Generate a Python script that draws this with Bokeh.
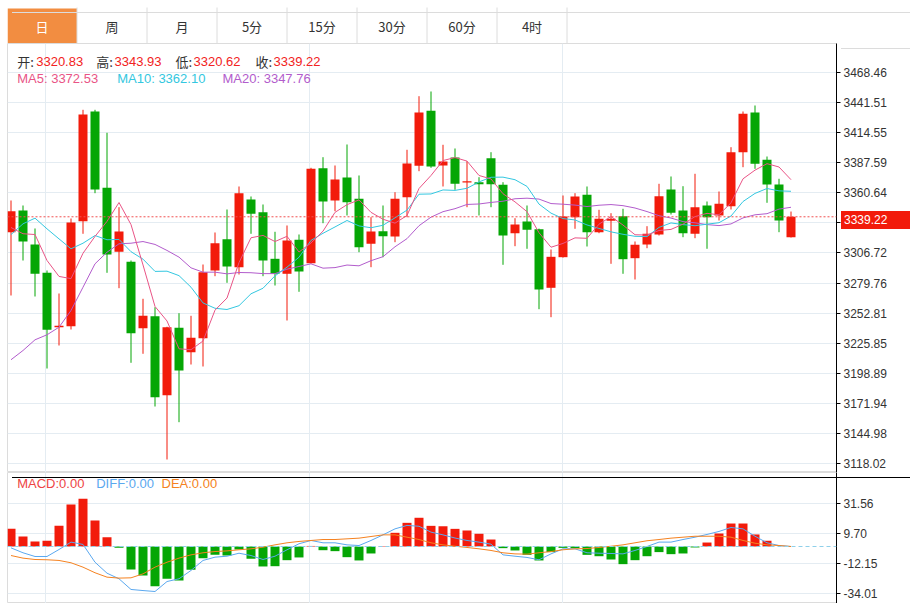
from bokeh.plotting import figure
from bokeh.layouts import column
from bokeh.models import Range1d, FixedTicker, PrintfTickFormatter, Span, Label, ColumnDataSource, Grid, Div
from bokeh.embed import file_html
from bokeh.resources import INLINE

# ---------------- data ----------------
tabs = ["日", "周", "月", "5分", "15分", "30分", "60分", "4时"]

opens = [3325.39, 3344.86, 3314.35, 3288.94, 3240.11, 3241.01, 3335.26, 3433.73, 3365.24, 3307.79,
         3298.82, 3239.22, 3249.99, 3179.08, 3239.58, 3217.67, 3230.24, 3291.01, 3319.10, 3293.97,
         3354.74, 3343.34, 3301.51, 3288.05, 3318.56, 3297.56, 3382.83, 3353.84, 3374.48, 3355.37,
         3314.97, 3326.28, 3321.53, 3356.80, 3384.99, 3434.36, 3385.26, 3392.44, 3370.00, 3370.27,
         3391.81, 3367.93, 3324.49, 3334.99, 3328.08, 3275.48, 3302.95, 3338.85, 3358.96, 3325.39,
         3335.62, 3339.75, 3302.05, 3314.35, 3323.32, 3363.71, 3344.86, 3323.95, 3349.35, 3340.38,
         3348.72, 3397.19, 3432.83, 3390.37, 3368.20, 3320.83]
highs = [3353.84, 3349.35, 3328.71, 3291.01, 3270.36, 3337.68, 3435.25, 3435.25, 3414.61, 3347.83,
         3299.98, 3265.61, 3258.07, 3240.50, 3252.68, 3250.34, 3296.39, 3325.12, 3345.76, 3366.41,
         3357.43, 3350.25, 3325.75, 3331.40, 3323.32, 3383.19, 3392.71, 3385.26, 3404.11, 3376.28,
         3338.85, 3349.35, 3361.29, 3399.35, 3447.46, 3451.68, 3403.84, 3400.52, 3389.12, 3374.76,
         3397.19, 3370.27, 3337.95, 3349.35, 3328.60, 3309.86, 3358.33, 3360.39, 3366.41, 3345.49,
         3342.44, 3346.39, 3317.04, 3330.77, 3368.83, 3375.38, 3366.68, 3377.81, 3352.94, 3361.92,
         3401.68, 3433.73, 3439.11, 3393.33, 3373.32, 3343.93]
lows = [3268.57, 3299.98, 3267.67, 3203.04, 3223.69, 3238.05, 3323.95, 3360.39, 3288.94, 3275.12,
        3208.16, 3216.24, 3168.93, 3121.36, 3154.84, 3206.63, 3204.84, 3285.89, 3279.97, 3287.42,
        3323.95, 3285.89, 3277.54, 3246.13, 3271.89, 3297.20, 3333.46, 3344.24, 3340.38, 3307.43,
        3293.97, 3302.95, 3316.41, 3338.85, 3380.14, 3383.19, 3366.41, 3363.45, 3347.83, 3340.38,
        3347.83, 3296.12, 3312.82, 3310.49, 3256.27, 3249.09, 3302.60, 3328.44, 3312.55, 3324.49,
        3297.02, 3288.05, 3282.93, 3311.02, 3322.42, 3341.27, 3320.90, 3320.00, 3310.49, 3335.89,
        3345.76, 3383.73, 3382.29, 3351.78, 3325.39, 3320.62]
closes = [3344.24, 3317.04, 3288.04, 3237.78, 3241.37, 3334.09, 3431.03, 3363.71, 3305.37, 3326.01,
          3234.73, 3250.34, 3177.28, 3240.11, 3201.25, 3230.60, 3289.48, 3315.51, 3294.60, 3360.39,
          3341.90, 3299.98, 3288.05, 3317.94, 3290.11, 3382.29, 3352.94, 3372.69, 3352.31, 3311.92,
          3326.01, 3321.80, 3355.37, 3387.05, 3432.83, 3384.36, 3388.85, 3368.83, 3371.16, 3368.47,
          3368.47, 3322.42, 3332.30, 3327.54, 3273.95, 3303.30, 3339.48, 3357.43, 3325.39, 3337.41,
          3337.41, 3301.15, 3314.08, 3323.95, 3357.70, 3342.80, 3324.49, 3347.83, 3338.85, 3350.88,
          3397.19, 3431.66, 3386.78, 3368.20, 3335.89, 3339.22]

ma5 = [3329.6, 3324.0, 3323.3, 3300.0, 3285.7, 3283.7, 3306.5, 3321.6, 3335.1, 3352.0,
       3332.2, 3296.0, 3258.7, 3245.7, 3220.7, 3219.9, 3227.7, 3255.4, 3266.3, 3298.1,
       3320.4, 3322.5, 3317.0, 3321.7, 3307.6, 3315.7, 3326.3, 3343.2, 3350.1, 3354.4,
       3343.2, 3337.0, 3333.5, 3340.4, 3364.6, 3376.3, 3389.7, 3392.4, 3389.2, 3376.3,
       3373.2, 3359.9, 3352.6, 3343.8, 3324.9, 3311.9, 3315.3, 3320.3, 3319.9, 3332.6,
       3339.4, 3331.8, 3323.1, 3322.8, 3326.9, 3327.9, 3332.6, 3339.4, 3342.3, 3341.0,
       3351.8, 3373.3, 3381.1, 3386.9, 3383.9, 3372.53]
ma10 = [3323.3, 3332.9, 3338.0, 3328.4, 3319.4, 3310.5, 3315.5, 3322.4, 3318.6, 3318.9,
        3307.9, 3301.2, 3290.2, 3290.4, 3286.4, 3276.0, 3261.9, 3257.1, 3256.0, 3259.4,
        3270.1, 3275.1, 3286.2, 3294.0, 3302.9, 3318.0, 3324.4, 3330.1, 3335.9, 3331.0,
        3329.4, 3331.6, 3338.3, 3345.2, 3359.5, 3359.7, 3363.3, 3362.9, 3364.8, 3370.5,
        3374.7, 3374.8, 3372.5, 3366.5, 3350.6, 3342.5, 3337.6, 3336.4, 3331.9, 3328.8,
        3325.7, 3323.5, 3321.7, 3321.4, 3329.7, 3333.7, 3332.2, 3331.2, 3332.6, 3333.9,
        3339.9, 3352.9, 3360.2, 3364.6, 3362.5, 3362.10]
ma20 = [3210.9, 3219.2, 3228.8, 3233.3, 3240.1, 3255.1, 3276.0, 3297.0, 3307.4, 3315.0,
        3315.5, 3317.0, 3314.4, 3309.0, 3303.0, 3293.4, 3289.5, 3289.5, 3288.0, 3289.2,
        3289.0, 3288.2, 3288.2, 3292.2, 3294.6, 3297.0, 3293.1, 3293.6, 3295.9, 3295.2,
        3299.8, 3303.4, 3312.3, 3319.6, 3331.2, 3338.9, 3343.8, 3346.5, 3350.3, 3350.7,
        3352.1, 3353.2, 3355.4, 3355.9, 3355.1, 3351.1, 3350.5, 3349.7, 3348.4, 3349.6,
        3350.2, 3349.2, 3347.1, 3343.9, 3340.2, 3338.1, 3334.9, 3333.8, 3332.2, 3331.3,
        3332.8, 3338.2, 3341.0, 3342.0, 3346.1, 3347.76]

macd = [12.9, 7.3, 3.7, 4.2, 15.1, 30.7, 34.9, 19.0, 6.8, -1.0,
        -16.8, -21.2, -29.0, -23.6, -24.9, -17.0, -8.5, -6.1, -6.6, -2.2,
        -9.0, -14.6, -14.4, -10.0, -8.0, 0.4, -2.7, -3.4, -7.8, -10.2,
        -5.1, 0.3, 10.0, 17.3, 21.0, 15.1, 14.8, 12.9, 11.7, 9.3,
        5.1, -1.2, -2.9, -6.1, -10.2, -4.1, -1.0, -1.2, -6.1, -7.1,
        -9.5, -12.9, -10.0, -7.1, -4.1, -5.6, -5.1, -0.7, 2.9, 9.5,
        16.8, 16.8, 8.8, 4.2, 0.0, 0.0]
diff = [-1.0, -4.6, -7.3, -7.3, -2.2, 3.2, 1.5, -11.5, -19.5, -23.6,
        -31.4, -32.2, -32.9, -25.6, -23.6, -17.5, -10.2, -7.8, -7.1, -4.9,
        -6.6, -9.5, -7.1, -2.4, 2.0, 4.4, 2.7, 2.7, 1.2, 0.7,
        4.4, 8.5, 12.9, 15.4, 14.8, 10.5, 8.5, 6.2, 4.4, 3.2,
        1.7, -6.1, -7.1, -8.0, -9.7, -5.4, -1.7, -1.7, -4.6, -4.9,
        -5.1, -5.4, -2.9, 0.0, 3.2, 3.2, 5.1, 6.8, 8.8, 11.0,
        13.9, 12.9, 7.5, 2.7, 0.7, 0.0]
dea = [-6.6, -8.5, -9.5, -9.7, -10.2, -11.9, -15.1, -19.2, -22.4, -23.1,
       -22.9, -20.0, -15.1, -11.5, -8.5, -6.1, -4.6, -3.7, -3.2, -2.4,
       -1.7, -0.5, 1.2, 2.7, 3.7, 4.4, 5.1, 5.1, 5.6, 6.1,
       7.3, 8.5, 8.5, 6.8, 5.1, 2.7, 1.2, 0.2, -0.7, -1.7,
       -2.9, -4.6, -5.4, -5.6, -4.6, -3.7, -2.4, -1.7, -1.5, -0.7,
       0.2, 1.2, 2.7, 4.2, 5.1, 6.1, 6.8, 7.5, 7.5, 7.5,
       6.8, 4.4, 2.4, 1.2, 0.7, 0.0]

price_ticks = [3468.46, 3441.51, 3414.55, 3387.59, 3360.64, 3333.68, 3306.72,
               3279.76, 3252.81, 3225.85, 3198.89, 3171.94, 3144.98, 3118.02]
macd_ticks = [31.56, 9.70, -12.15, -34.01]
month_starts = [2.9, 24.9, 45.96]

# ---------------- style / layout ----------------
RED = "#f21b0b"
GREEN = "#05a605"
TXT_RED = "#f22222"
MA5_C, MA10_C, MA20_C = "#e95486", "#33c7e0", "#b25ccc"
DIFF_C, DEA_C = "#5aa8ef", "#f58220"
GRID_C = "#e4ecf2"
BORDER_C = "#dcdcdc"
ORANGE_TAB = "#f28d41"
LAT = "Liberation Sans"
CJK = "Noto Sans CJK SC"

W = 910
FRAME_LEFT = 7
AXIS_W = 74
FRAME_RIGHT = W - AXIS_W          # 836
FRAME_W = FRAME_RIGHT - FRAME_LEFT
TAB_H, PRICE_H, MACD_H = 43, 429, 131
STEP = 12.0
X_START = -3.5 / STEP
X_END = X_START + FRAME_W / STEP
PRICE_TOP = TAB_H
PPX = 0.8976
Y_TOP = 3494.76
Y_BOT = Y_TOP - PRICE_H * PPX
MACD_TOP = PRICE_TOP + PRICE_H    # 472
MPX = 0.731
M_TOP = (546 - MACD_TOP) * MPX
M_BOT = M_TOP - MACD_H * MPX


def fx(page_x):
    return X_START + (page_x - FRAME_LEFT) / STEP


def fy_price(page_y):
    return Y_TOP - (page_y - PRICE_TOP) * PPX


def fy_macd(page_y):
    return M_TOP - (page_y - MACD_TOP) * MPX


def add_label(fig, x, y, text, color, font=LAT, size="13px", align="left"):
    fig.add_layout(Label(x=x, y=y, text=text, text_color=color, text_font=font,
                         text_font_size=size, text_align=align, text_baseline="middle"))


def style_right_axis(fig, ticks):
    ax = fig.yaxis[0]
    ax.ticker = FixedTicker(ticks=ticks)
    ax.formatter = PrintfTickFormatter(format="%.2f")
    ax.axis_line_color = "black"
    ax.major_tick_line_color = "black"
    ax.major_tick_out = 4
    ax.major_tick_in = 0
    ax.minor_tick_line_color = None
    ax.major_label_text_font = LAT
    ax.major_label_text_font_size = "12px"
    ax.major_label_text_color = "#333333"
    ax.major_label_standoff = 3
    fig.grid.visible = False
    fig.add_layout(Grid(dimension=0, ticker=FixedTicker(ticks=month_starts), grid_line_color=GRID_C))
    fig.add_layout(Grid(dimension=1, ticker=FixedTicker(ticks=ticks), grid_line_color=GRID_C))


def make_fig(height, x_range, y_range, axis=True):
    return figure(width=W, height=height, x_range=x_range, y_range=y_range,
                  toolbar_location=None, output_backend="svg",
                  min_border_left=FRAME_LEFT, min_border_right=AXIS_W,
                  min_border_top=0, min_border_bottom=0, x_axis_location=None,
                  y_axis_location="right" if axis else None, title=None)


# ---------------- tab bar ----------------
tf = make_fig(TAB_H, Range1d(FRAME_LEFT, FRAME_RIGHT), Range1d(TAB_H, 0), axis=False)
tf.outline_line_color = None
tf.grid.visible = False
edges = [6.5 + 70 * k for k in range(len(tabs) + 1)]
tf.quad(left=[FRAME_LEFT], right=[edges[1]], top=[8], bottom=[TAB_H], fill_color=ORANGE_TAB, line_color=None)
tf.segment(x0=edges[1:], y0=[7] * len(tabs), x1=edges[1:], y1=[TAB_H] * len(tabs),
           line_color=BORDER_C, line_width=1)
for k, t in enumerate(tabs):
    add_label(tf, (edges[k] + edges[k + 1]) / 2, 26, t, "white" if k == 0 else "#333333",
              font=CJK, size="13px", align="center")

# ---------------- price panel ----------------
pf = make_fig(PRICE_H, Range1d(X_START, X_END), Range1d(Y_BOT, Y_TOP))
pf.outline_line_color = BORDER_C
style_right_axis(pf, price_ticks)

idx = list(range(len(closes)))
cols = [RED if c >= o else GREEN for o, c in zip(opens, closes)]
src = ColumnDataSource(dict(x=idx, h=highs, l=lows,
                            top=[max(o, c) for o, c in zip(opens, closes)],
                            bottom=[min(o, c) for o, c in zip(opens, closes)],
                            color=cols))
pf.segment(x0="x", y0="h", x1="x", y1="l", line_color="color", line_width=1, source=src)
pf.vbar(x="x", width=0.75, top="top", bottom="bottom", fill_color="color", line_color=None, source=src)
pf.line(idx, ma20, line_color=MA20_C, line_width=1)
pf.line(idx, ma10, line_color=MA10_C, line_width=1)
pf.line(idx, ma5, line_color=MA5_C, line_width=1)

pf.add_layout(Span(location=closes[-1], dimension="width", line_color="#f25050", line_dash="2 2", line_width=1))

row1 = fy_price(60.7)
info = [("开:", 16.7, "#333333", CJK), (f"{opens[-1]:.2f}", 35.7, TXT_RED, LAT),
        ("高:", 95.7, "#333333", CJK), (f"{highs[-1]:.2f}", 114.0, TXT_RED, LAT),
        ("低:", 175.0, "#333333", CJK), (f"{lows[-1]:.2f}", 193.0, TXT_RED, LAT),
        ("收:", 255.0, "#333333", CJK), (f"{closes[-1]:.2f}", 273.0, TXT_RED, LAT)]
for text, px, color, font in info:
    add_label(pf, fx(px), row1, text, color, font=font)
row2 = fy_price(78.3)
for text, px, color in [(f"MA5: {ma5[-1]:.2f}", 16.7, MA5_C), (f"MA10: {ma10[-1]:.2f}", 116.7, MA10_C),
                        (f"MA20: {ma20[-1]:.2f}", 222.0, MA20_C)]:
    add_label(pf, fx(px), row2, text, color)

# ---------------- MACD panel ----------------
mf = make_fig(MACD_H, pf.x_range, Range1d(M_BOT, M_TOP))
mf.outline_line_color = BORDER_C
style_right_axis(mf, macd_ticks)
mcols = [RED if v > 0 else GREEN for v in macd]
mf.vbar(x=idx, width=0.75, top=macd, bottom=0, fill_color=mcols, line_color=None)
mf.add_layout(Span(location=0, dimension="width", line_color="#8fd0ea", line_dash="4 3", line_width=1))
mf.line(idx, diff, line_color=DIFF_C, line_width=1)
mf.line(idx, dea, line_color=DEA_C, line_width=1)

mrow = fy_macd(483.3)
for text, px, color in [(f"MACD:{macd[-1]:.2f}", 16.7, "#ee4444"), (f"DIFF:{diff[-1]:.2f}", 95.7, DIFF_C),
                        (f"DEA:{dea[-1]:.2f}", 161.0, DEA_C)]:
    add_label(mf, fx(px), mrow, text, color)


# ---------------- page chrome (frame lines and last-price tag) ----------------
def abs_box(left, top, width, height, color, text="", extra=None):
    st = {"position": "absolute", "left": f"{left}px", "top": f"{top}px",
          "background-color": color, "z-index": "10", "overflow": "hidden"}
    if extra:
        st.update(extra)
    return Div(text=text, width=width, height=height, styles=st)


chrome = [
    abs_box(FRAME_LEFT, 7, W - FRAME_LEFT - 4, 1, BORDER_C),                 # tab bar top border
    abs_box(FRAME_RIGHT, PRICE_TOP, W - FRAME_RIGHT - 4, 1, BORDER_C),        # tab bar bottom border (axis side)
    abs_box(W - 5, 7, 1, 596, BORDER_C),                                      # right frame
    abs_box(FRAME_LEFT, MACD_TOP, W - FRAME_LEFT - 4, 1, "black"),            # separator
    abs_box(FRAME_LEFT, 602, W - FRAME_LEFT - 4, 1, "black"),                 # bottom line
    abs_box(FRAME_RIGHT, 206, W - FRAME_RIGHT - 4, 18, RED, text=f"{closes[-1]:.2f}",
            extra={"color": "white", "font-family": LAT, "font-size": "12px",
                   "line-height": "18px", "padding-left": "3px", "box-sizing": "border-box"}),
]

layout = column(tf, pf, mf, *chrome, spacing=0)
open("out.html", "w").write(file_html(layout, INLINE))
